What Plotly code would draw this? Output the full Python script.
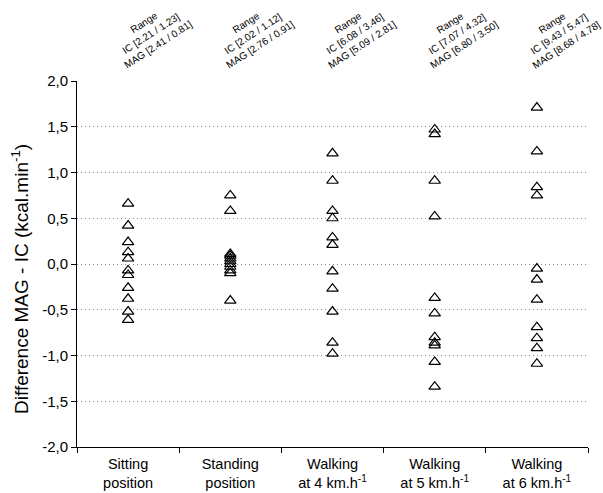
import plotly.graph_objects as go

categories = ["Sitting<br>position", "Standing<br>position",
              "Walking<br>at 4 km.h<sup>-1</sup>", "Walking<br>at 5 km.h<sup>-1</sup>",
              "Walking<br>at 6 km.h<sup>-1</sup>"]

sitting = [0.66, 0.42, 0.24, 0.13, 0.06, -0.07, -0.12, -0.26, -0.38, -0.52, -0.61]
standing = [0.75, 0.58, 0.11, 0.09, 0.06, 0.03, 0.0, -0.03, -0.07, -0.10, -0.40]
walk4 = [1.21, 0.91, 0.58, 0.50, 0.29, 0.21, -0.08, -0.27, -0.52, -0.86, -0.98]
walk5 = [1.47, 1.42, 0.91, 0.52, -0.37, -0.54, -0.80, -0.86, -0.89, -1.07, -1.34]
walk6 = [1.71, 1.23, 0.84, 0.75, -0.05, -0.17, -0.39, -0.69, -0.81, -0.92, -1.09]

ranges = [
    ("2.21 / 1.23", "2.41 / 0.81"),
    ("2.02 / 1.12", "2.76 / 0.91"),
    ("6.08 / 3.46", "5.09 / 2.81"),
    ("7.07 / 4.32", "6.80 / 3.50"),
    ("9.43 / 5.47", "8.68 / 4.78"),
]

y_ticks = [-2.0, -1.5, -1.0, -0.5, 0.0, 0.5, 1.0, 1.5, 2.0]
y_ticktext = ["-2,0", "-1,5", "-1,0", "-0,5", "0,0", "0,5", "1,0", "1,5", "2,0"]

series = [sitting, standing, walk4, walk5, walk6]

fig = go.Figure()
for cat, vals in zip(categories, series):
    fig.add_trace(go.Scatter(
        x=[cat] * len(vals), y=vals, mode="markers",
        marker=dict(symbol="triangle-up-open", size=10, color="black",
                    line=dict(color="black", width=1.2)),
        showlegend=False, hoverinfo="y"))

for cat, (ic, mag) in zip(categories, ranges):
    fig.add_annotation(
        x=cat, xref="x", y=(447 - 34) / 366, yref="paper",
        xanchor="center", yanchor="middle", xshift=23,
        text=f"Range<br>IC [{ic}]<br>MAG [{mag}]",
        textangle=-33, showarrow=False, align="center",
        font=dict(family="Liberation Sans, Arial", size=10, color="black"))

fig.add_annotation(
    text="Difference MAG - IC (kcal.min<sup>-1</sup>)",
    xref="paper", yref="paper", x=(20 - 77) / 511, y=(447 - 279) / 366,
    xanchor="center", yanchor="middle", textangle=-90, showarrow=False,
    font=dict(family="Liberation Sans, Arial", size=19, color="black"))

fig.update_layout(
    width=603, height=493,
    margin=dict(l=77, r=15, t=81, b=46, autoexpand=False),
    paper_bgcolor="white", plot_bgcolor="white",
    font=dict(family="Liberation Sans, Arial", color="black", size=14),
    xaxis=dict(type="category", categoryorder="array", categoryarray=categories,
               range=[-0.5, 4.5], tickson="boundaries", ticks="outside",
               ticklen=5, tickcolor="black", showline=True, linecolor="black",
               linewidth=1, showgrid=False, tickfont=dict(size=14.5),
               automargin=False, ticklabelstandoff=4),
    yaxis=dict(range=[-2, 2], tickvals=y_ticks, ticktext=y_ticktext,
               ticks="outside", ticklen=5, tickcolor="black",
               showline=True, linecolor="black", linewidth=1,
               showgrid=True, gridcolor="#888888", griddash="1px,3px", gridwidth=1,
               zeroline=False, tickfont=dict(size=15), automargin=False),
)

fig.write_html("out.html", config={"displayModeBar": False})

with open("out.html", "r", encoding="utf-8") as f:
    html = f.read()
html = html.replace("<head>", "<head><style>html,body{margin:0;padding:0;}</style>", 1)
with open("out.html", "w", encoding="utf-8") as f:
    f.write(html)
